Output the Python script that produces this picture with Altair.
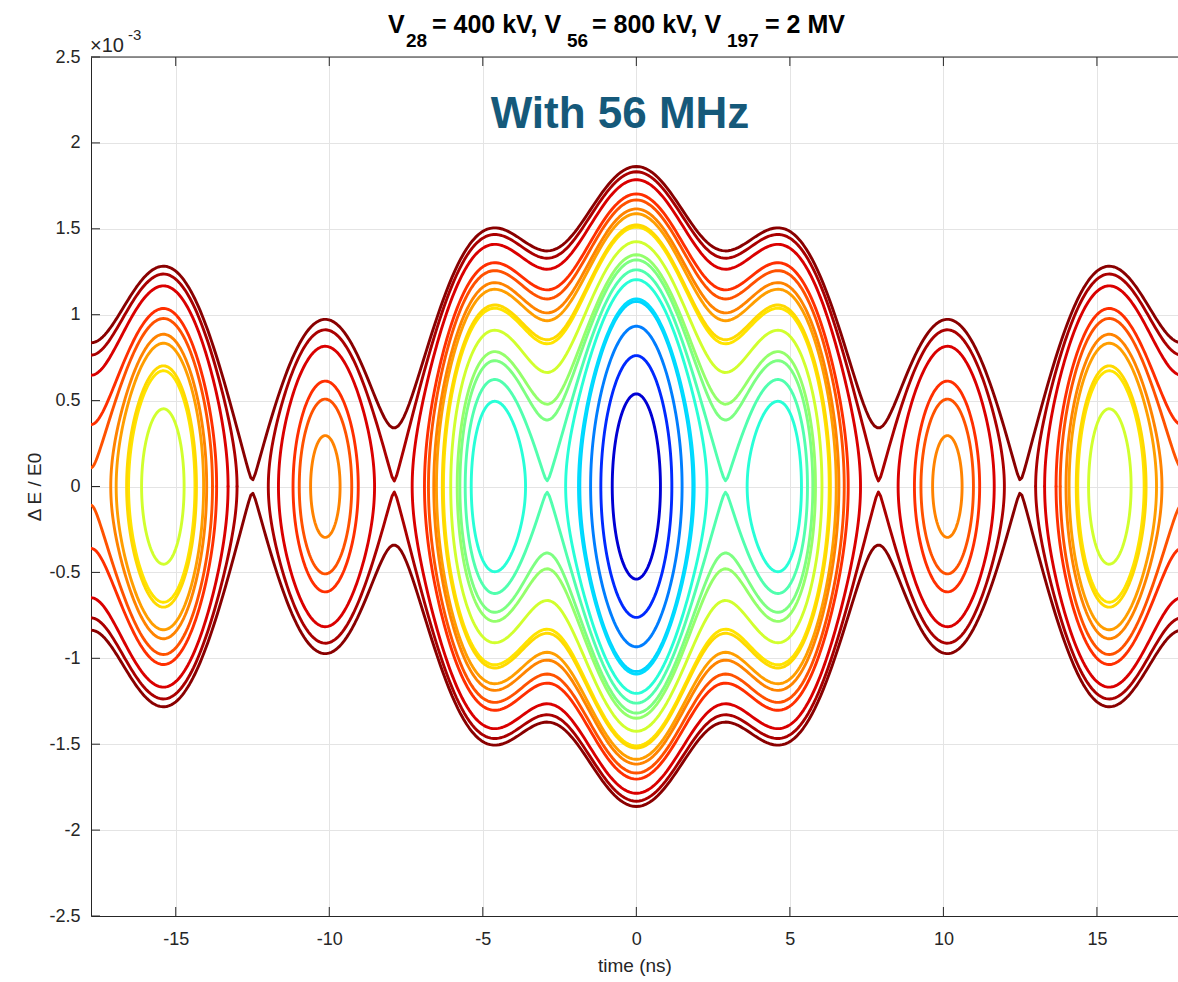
import numpy as np
import pandas as pd
import altair as alt

alt.data_transformers.disable_max_rows()

# RF harmonics: frequency (MHz) and voltage (kV)
rf_freq_mhz = [28.15, 56.3, 197.05]
rf_volt_kv = [400.0, 800.0, 2000.0]

# (ΔE/E0)^2, in units of 1e-6, per kV of RF potential
energy_scale = 0.00202

# contour levels, given as the ΔE/E0 value (x1e-3) where each one crosses t = 0
contour_at_t0 = [0.539, 0.762, 0.933, 1.077, 1.092, 1.204, 1.2615, 1.319, 1.349,
                 1.425, 1.510, 1.523, 1.588, 1.616, 1.668, 1.703, 1.786, 1.8318, 1.8629]

x_ticks = [-15, -10, -5, 0, 5, 10, 15]
y_ticks = [-2.5, -2, -1.5, -1, -0.5, 0, 0.5, 1, 1.5, 2, 2.5]

T_HALF = 17.76            # half of one 28 MHz period, ns
X_VIEW = [-17.76, 17.64]
Y_VIEW = [-2.5, 2.5]


def rf_potential(t):
    """RF potential well, relative to its bottom at t = 0, in (1e-3)^2 units."""
    t = np.asarray(t, dtype=float)
    f0 = rf_freq_mhz[0]
    total = np.zeros_like(t)
    for f, v in zip(rf_freq_mhz, rf_volt_kv):
        total = total + v * (f0 / f) * (1.0 - np.cos(2.0 * np.pi * f * 1e-3 * t))
    return energy_scale * total


def crossing(lo, hi, lev2):
    f_lo = float(rf_potential(lo)) - lev2
    for _ in range(60):
        mid = 0.5 * (lo + hi)
        f_mid = float(rf_potential(mid)) - lev2
        if (f_mid < 0) == (f_lo < 0):
            lo, f_lo = mid, f_mid
        else:
            hi = mid
    return 0.5 * (lo + hi)


# trace every level set  δ² = level² − U(t)
grid = np.linspace(-T_HALF, T_HALF, 40001)
pot_grid = rf_potential(grid)
rows = []
gid = 0
for lev in contour_at_t0:
    lev2 = lev ** 2
    idx = np.flatnonzero(pot_grid < lev2)
    if len(idx) == 0:
        continue
    runs = np.split(idx, np.flatnonzero(np.diff(idx) > 1) + 1)
    for run in runs:
        i0, i1 = run[0], run[-1]
        open_l = i0 == 0
        open_r = i1 == len(grid) - 1
        a = grid[0] if open_l else crossing(grid[i0 - 1], grid[i0], lev2)
        b = grid[-1] if open_r else crossing(grid[i1 + 1], grid[i1], lev2)
        n = int(60 + 14 * (b - a))
        s = np.linspace(0.0, 1.0, n)
        t = a + (b - a) * (1.0 - np.cos(np.pi * s)) / 2.0
        d = np.sqrt(np.clip(lev2 - rf_potential(t), 0.0, None))
        if open_l or open_r:
            pieces = [(t, d), (t, -d)]
        else:
            pieces = [(np.concatenate([t, t[::-1][1:]]),
                       np.concatenate([d, -d[::-1][1:]]))]
        for tt, dd in pieces:
            for k, (tv, dv) in enumerate(zip(tt, dd)):
                rows.append((gid, k, round(float(tv), 4), round(float(dv), 4), round(lev2, 4)))
            gid += 1

curves = pd.DataFrame(rows, columns=["g", "i", "t", "y", "c"])

W, H = 1087, 859
AXIS = "#262626"
GRID = "#e4e4e4"
FONT = "Liberation Sans"

# MATLAB-style jet colormap over the level values
jet = alt.Scale(domain=[0, 0.4375, 1.3125, 2.1875, 3.0625, 3.5],
                range=["#000080", "#0000ff", "#00ffff", "#ffff00", "#ff0000", "#800000"],
                interpolate="rgb")

x_scale = alt.Scale(domain=X_VIEW, nice=False, zero=False)
y_scale = alt.Scale(domain=Y_VIEW, nice=False, zero=False)

lines = alt.Chart(curves).mark_line(
    strokeWidth=2.9, clip=True, strokeCap="round", strokeJoin="round"
).encode(
    x=alt.X("t:Q", scale=x_scale,
            axis=alt.Axis(values=x_ticks, labelExpr="datum.value + ''", title="time (ns)",
                          grid=True, gridColor=GRID, gridWidth=1, ticks=False, tickSize=0,
                          domainColor=AXIS, domainWidth=1, labelPadding=14, titlePadding=8,
                          labelFontSize=18, titleFontSize=19, titleFontWeight="normal",
                          labelFont=FONT, titleFont=FONT, labelColor=AXIS, titleColor=AXIS)),
    y=alt.Y("y:Q", scale=y_scale,
            axis=alt.Axis(values=y_ticks, labelExpr="datum.value + ''", title="Δ E / E0",
                          grid=True, gridColor=GRID, gridWidth=1, ticks=False, tickSize=0,
                          domainColor=AXIS, domainWidth=1, labelPadding=11, titlePadding=4,
                          labelFontSize=18, titleFontSize=19, titleFontWeight="normal",
                          labelFont=FONT, titleFont=FONT, labelColor=AXIS, titleColor=AXIS)),
    color=alt.Color("c:Q", scale=jet, legend=None),
    detail="g:N",
    order="i:Q",
)

one = pd.DataFrame({"k": [0]})
xt = pd.DataFrame({"t": x_ticks})
yt = pd.DataFrame({"y": y_ticks})

top_ticks = alt.Chart(xt).mark_rule(color=AXIS, strokeWidth=1).encode(
    x="t:Q", y=alt.value(0), y2=alt.value(9))
bottom_ticks = alt.Chart(xt).mark_rule(color=AXIS, strokeWidth=1).encode(
    x="t:Q", y=alt.value(H - 9), y2=alt.value(H))
left_ticks = alt.Chart(yt).mark_rule(color=AXIS, strokeWidth=1).encode(
    y="y:Q", x=alt.value(0), x2=alt.value(9))
top_border = alt.Chart(one).mark_rule(color=AXIS, strokeWidth=1).encode(
    x=alt.value(0), x2=alt.value(W), y=alt.value(0))


def label(txt, x, y, size, weight="normal", color="black", align="left"):
    return alt.Chart(one).mark_text(
        text=txt, align=align, baseline="alphabetic", font=FONT,
        fontSize=size, fontWeight=weight, color=color
    ).encode(x=alt.value(x), y=alt.value(y))


title_parts = [
    label("V", 297, -24, 25, "bold"),
    label("28", 315, -10, 19, "bold"),
    label("= 400 kV, V", 341, -24, 25, "bold"),
    label("56", 476, -10, 19, "bold"),
    label("= 800 kV, V", 501, -24, 25, "bold"),
    label("197", 636, -10, 19, "bold"),
    label("= 2 MV", 674, -24, 25, "bold"),
]
exponent = [
    label("×10", -1, -5, 20, color=AXIS),
    label("-3", 37, -17, 15, color=AXIS),
]
banner = label("With 56 MHz", 529, 71, 44, "bold", color="#15597a", align="center")

chart = alt.layer(
    lines, top_ticks, bottom_ticks, left_ticks, top_border,
    *title_parts, *exponent, banner
).properties(
    width=W, height=H,
    padding={"left": 91, "top": 57, "right": 0, "bottom": 66},
    autosize=alt.AutoSizeParams(type="none"),
).configure_view(
    stroke=None
).configure_axis(
    labelFont=FONT, titleFont=FONT, labelColor=AXIS, titleColor=AXIS,
    titleFontWeight="normal", labelFlush=False, labelOverlap=False
).configure(background="white")

chart.save("out.html", embed_options={"renderer": "svg", "actions": False})
